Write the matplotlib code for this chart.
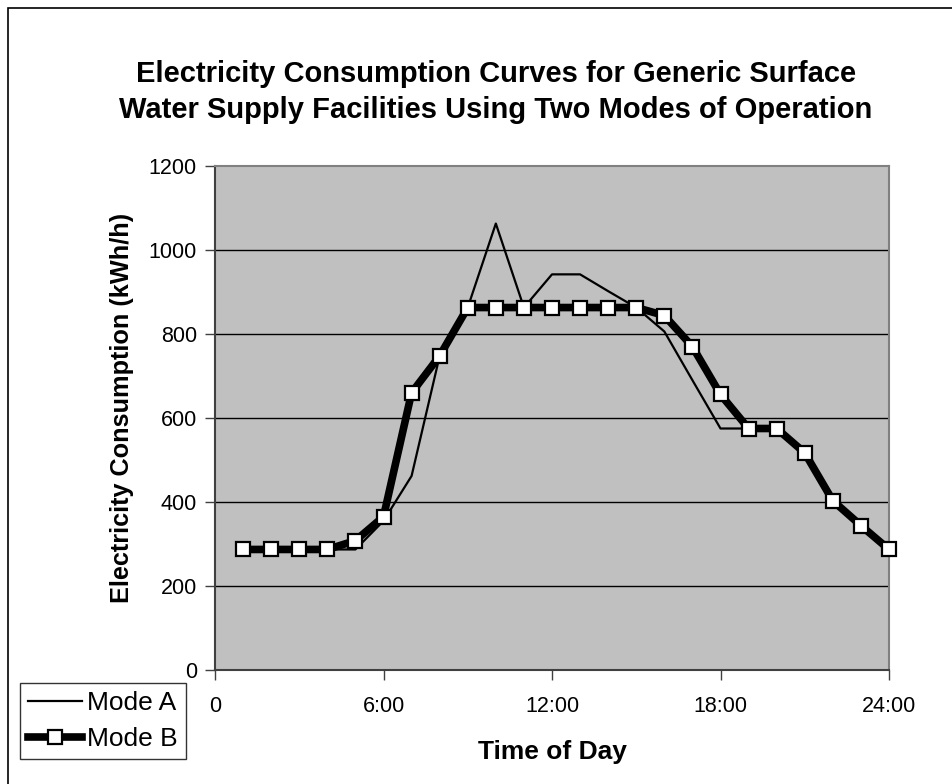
import matplotlib
matplotlib.use("Agg")
import matplotlib.pyplot as plt
from matplotlib.patches import Rectangle

plt.rcParams['font.family'] = ['Liberation Sans', 'DejaVu Sans']

hours = list(range(1, 25))
mode_a = [287, 287, 287, 287, 287, 355, 462, 748, 863, 1063, 863, 942,
          942, 902, 863, 806, 690, 575, 575, 575, 517, 403, 344, 287]
mode_b = [287, 287, 287, 287, 308, 365, 660, 748, 863, 863, 863, 863,
          863, 863, 863, 844, 770, 656, 575, 575, 517, 403, 344, 287]
xticks = [0, 6, 12, 18, 24]
xlabels = ["0", "6:00", "12:00", "18:00", "24:00"]
yticks = [0, 200, 400, 600, 800, 1000, 1200]

fig = plt.figure(figsize=(9.52, 7.84), dpi=100)
ax = fig.add_axes([215 / 952, 1 - 670 / 784, (889 - 215) / 952, (670 - 166) / 784])
ax.set_facecolor("#c0c0c0")

for y in yticks[1:-1]:
    ax.axhline(y, color="black", lw=1.0, zorder=1)

ax.plot(hours, mode_a, color="black", lw=1.6, label="Mode A", zorder=3)
ax.plot(hours, mode_b, color="black", lw=5.5, marker="s", markersize=10,
        markerfacecolor="white", markeredgecolor="black", markeredgewidth=1.6,
        label="Mode B", zorder=4, clip_on=False)

ax.set_xlim(0, 24)
ax.set_ylim(0, 1200)
ax.set_xticks(xticks)
ax.set_xticklabels(xlabels)
ax.set_yticks(yticks)
ax.tick_params(labelsize=15.5, direction="out", length=7, width=1, color="#404040")
ax.tick_params(axis="x", pad=12)
ax.tick_params(axis="y", pad=6)

for side in ["top", "right"]:
    ax.spines[side].set_color("#808080")
    ax.spines[side].set_linewidth(1.5)
for side in ["left", "bottom"]:
    ax.spines[side].set_color("#404040")
    ax.spines[side].set_linewidth(1.5)

ax.set_xlabel("Time of Day", fontsize=19, fontweight="bold", labelpad=16)
ax.set_ylabel("Electricity Consumption (kWh/h)", fontsize=18.2, fontweight="bold")
ax.yaxis.set_label_coords(-0.138, 0.52)
ax.yaxis.label.set_verticalalignment("center")

fig.text(496 / 952, 1 - 92 / 784, "Electricity Consumption Curves for Generic Surface\n"
         "Water Supply Facilities Using Two Modes of Operation",
         ha="center", va="center", fontsize=21, fontweight="bold", linespacing=1.38)

leg = fig.legend(loc="upper left", bbox_to_anchor=(20 / 952, 1 - 683 / 784),
                 fontsize=19, frameon=True, fancybox=False, edgecolor="black",
                 handlelength=2.05, handletextpad=0.2, borderpad=0.3,
                 labelspacing=0.45, borderaxespad=0)
leg.get_frame().set_linewidth(1.0)

# outer chart frame (left/top visible only)
fig.patches.append(Rectangle((8 / 952, -0.05), 1.2, 1 - 8 / 784 + 0.05,
                             transform=fig.transFigure, fill=False,
                             edgecolor="black", lw=1.2))

fig.savefig("out.png", dpi=100)
